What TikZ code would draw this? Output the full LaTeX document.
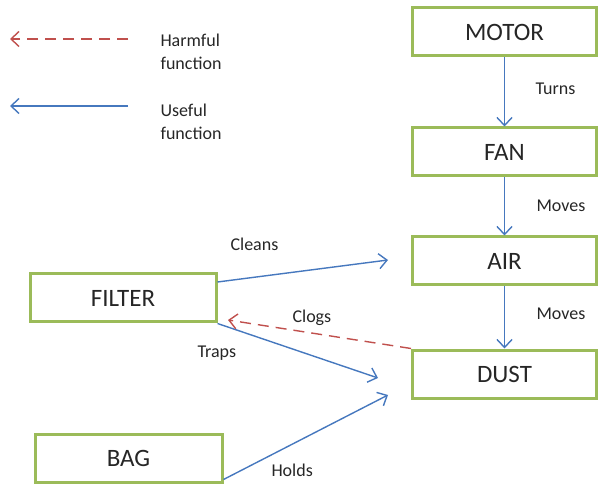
\documentclass[tikz,border=0pt]{standalone}
\usepackage{fontspec}
\setmainfont{Carlito}
\usetikzlibrary{arrows.meta}
\definecolor{boxgreen}{RGB}{155,187,89}
\definecolor{useblue}{RGB}{70,120,190}
\definecolor{harmred}{RGB}{192,80,77}
\begin{document}
\begin{tikzpicture}[x=1pt,y=-1pt,
  fbox/.style={draw=boxgreen,line width=3pt,fill=white,inner sep=0pt,font=\fontsize{25}{30}\selectfont,text=black!85},
  useful/.style={draw=useblue,line width=1.4pt,-{Straight Barb[length=8pt,width=15pt,line width=1.4pt]}},
  harmful/.style={draw=harmred,line width=1.4pt,dash pattern=on 11pt off 7pt,-{Straight Barb[length=8pt,width=15pt,line width=1.4pt]}},
  lbl/.style={font=\fontsize{18}{23}\selectfont,text=black!85,align=left,anchor=west}]
\useasboundingbox (0,0) rectangle (598,484);
% boxes
\node[fbox,minimum width=184pt,minimum height=48pt] (motor) at (504.5,32) {MOTOR};
\node[fbox,minimum width=184pt,minimum height=48pt] (fan) at (504.5,152) {FAN};
\node[fbox,minimum width=184pt,minimum height=48pt] (air) at (504.5,261) {AIR};
\node[fbox,minimum width=184pt,minimum height=48pt] (dust) at (504.5,374) {DUST};
\node[fbox,minimum width=186pt,minimum height=48pt] (filter) at (123,298) {FILTER};
\node[fbox,minimum width=187pt,minimum height=48pt] (bag) at (128.5,458) {BAG};
% coordinates
\coordinate (cleanend) at (388,260);
\coordinate (trapend) at (378,378);
\coordinate (holdend) at (388,395);
\coordinate (clogend) at (228,320);
% connectors
\draw[useful] (motor) -- (fan);
\draw[useful] (fan) -- (air);
\draw[useful] (air) -- (dust);
\draw[useful] (filter.east) ++(0,-16) coordinate (fc) -- (cleanend);
\draw[useful] (filter.south east) -- (trapend);
\draw[useful] (bag.south east) ++(0,-4) coordinate (bc) -- (holdend);
\draw[harmful] (dust.north west) -- (clogend);
% labels
\node[lbl] (turns) at (532,89) {Turns};
\node[lbl] (moves1) at (533,206) {Moves};
\node[lbl] (moves2) at (533,314) {Moves};
\node[lbl] (cleans) at (227,244) {Cleans};
\node[lbl] (clogs) at (289,318) {Clogs};
\node[lbl] (traps) at (194,353) {Traps};
\node[lbl] (holds) at (268,470) {Holds};
% legend
\coordinate (l1a) at (128,39);
\coordinate (l1b) at (10,39);
\coordinate (l2a) at (128,106);
\coordinate (l2b) at (10,106);
\draw[harmful] (l1a) -- (l1b);
\draw[useful] (l2a) -- (l2b);
\node[lbl,align=left] (harm) at (157,52) {Harmful\\function};
\node[lbl,align=left] (use) at (157,122) {Useful\\function};
\end{tikzpicture}
\end{document}
